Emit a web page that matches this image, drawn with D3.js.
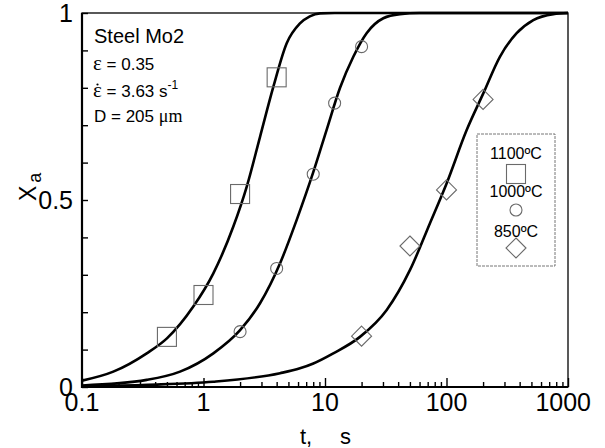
<!DOCTYPE html>
<html>
<head>
<meta charset="utf-8">
<script src="https://cdn.jsdelivr.net/npm/d3@7/dist/d3.min.js"></script>
<style>
  html, body { margin: 0; padding: 0; background: #fff; }
  svg { display: block; }
  text { font-family: "Liberation Sans", Arial, sans-serif; fill: #000; }
  .serif { font-family: "Liberation Serif", "Times New Roman", serif; }
</style>
</head>
<body>
<svg id="chart" width="605" height="448"></svg>
<script>
// Measured points (recrystallised fraction vs time)
const tempLabels = ["1100ºC", "1000ºC", "850ºC"];

const t1100 = [0.5, 1, 2, 4];
const x1100 = [0.134, 0.246, 0.516, 0.828];

const t1000 = [2, 4, 8, 12, 20];
const x1000 = [0.148, 0.317, 0.569, 0.759, 0.910];

const t850 = [20, 50, 100, 200];
const x850 = [0.136, 0.377, 0.527, 0.769];

// Fitted kinetic curves, sampled along each line
const fit1100T = [0.1, 0.181, 0.341, 0.5, 0.824, 1.205, 1.76, 2.27, 2.92, 3.76, 4.84, 6.22, 7.5, 9.1, 12, 1000];
const fit1100X = [0.017, 0.041, 0.090, 0.130, 0.215, 0.304, 0.429, 0.536, 0.669, 0.803, 0.919, 0.972, 0.991, 0.999, 1, 1];

const fit1000T = [0.1, 0.341, 0.641, 1.205, 2.0, 2.92, 4.27, 5.85, 8.02, 10.3, 13.3, 17.1, 22.0, 30.2, 41.4, 60, 1000];
const fit1000X = [0.004, 0.019, 0.041, 0.090, 0.152, 0.224, 0.331, 0.447, 0.575, 0.687, 0.800, 0.883, 0.946, 0.986, 0.997, 1, 1];

const fit850T = [0.1, 0.35, 1.2, 4.27, 6.22, 8.02, 11.7, 19.4, 32.2, 50.1, 73.1, 100.4, 146.6, 200.8, 275, 378, 518, 757, 1000];
const fit850X = [0.002, 0.006, 0.014, 0.037, 0.050, 0.063, 0.090, 0.134, 0.206, 0.313, 0.438, 0.545, 0.687, 0.785, 0.883, 0.946, 0.981, 0.997, 1.0];

// Axis ticks
const xMajorTicks = [0.1, 1, 10, 100, 1000];
const xTickLabels = ["0.1", "1", "10", "100", "1000"];
const yMinorTicks = [0, 0.1, 0.2, 0.3, 0.4, 0.5, 0.6, 0.7, 0.8, 0.9, 1];
const yLabelTicks = [0, 0.5, 1];
const yTickLabels = ["0", "0.5", "1"];

const svg = d3.select("#chart");
const plotL = 82, plotR = 568, plotT = 13, plotB = 387;

const x = d3.scaleLog().domain([0.1, 1000]).range([plotL, plotR]);
const y = d3.scaleLinear().domain([0, 1]).range([plotB, plotT]);

// minor decade ticks 2..9 in every decade
const xMinorTicks = [];
xMajorTicks.slice(0, -1).forEach(d => {
  for (let k = 2; k <= 9; k++) xMinorTicks.push(d * k);
});

svg.append("clipPath").attr("id", "plotclip")
  .append("rect").attr("x", plotL).attr("y", plotT - 2)
  .attr("width", plotR - plotL).attr("height", plotB - plotT + 2);

// fitted curves
const line = d3.line()
  .x(d => x(d[0])).y(d => y(d[1]))
  .curve(d3.curveMonotoneX);

const curves = [
  d3.zip(fit1100T, fit1100X),
  d3.zip(fit1000T, fit1000X),
  d3.zip(fit850T, fit850X)
];
svg.append("g").attr("clip-path", "url(#plotclip)")
  .selectAll("path").data(curves).join("path")
  .attr("d", line)
  .attr("fill", "none")
  .attr("stroke", "#000")
  .attr("stroke-width", 2.6)
  .attr("stroke-linejoin", "round");

// markers
const markerStroke = "#6a6a6a";
const sq = 19, cr = 6, dm = 10;

function drawSquare(g, cx, cy) {
  g.append("rect").attr("x", cx - sq / 2).attr("y", cy - sq / 2)
    .attr("width", sq).attr("height", sq)
    .attr("fill", "none").attr("stroke", markerStroke).attr("stroke-width", 1.1);
}
function drawCircle(g, cx, cy) {
  g.append("circle").attr("cx", cx).attr("cy", cy).attr("r", cr)
    .attr("fill", "none").attr("stroke", markerStroke).attr("stroke-width", 1.1);
}
function drawDiamond(g, cx, cy) {
  g.append("path")
    .attr("d", `M${cx},${cy - dm}L${cx + dm},${cy}L${cx},${cy + dm}L${cx - dm},${cy}Z`)
    .attr("fill", "none").attr("stroke", markerStroke).attr("stroke-width", 1.1);
}

const mk = svg.append("g");
d3.zip(t1100, x1100).forEach(d => drawSquare(mk, x(d[0]), y(d[1])));
d3.zip(t1000, x1000).forEach(d => drawCircle(mk, x(d[0]), y(d[1])));
d3.zip(t850, x850).forEach(d => drawDiamond(mk, x(d[0]), y(d[1])));

// axes: inward ticks
const axisStyle = g => {
  g.select(".domain").remove();
  g.selectAll(".tick line").attr("stroke", "#000").attr("stroke-width", 1.4);
};

svg.append("g").attr("transform", `translate(0,${plotB})`)
  .call(d3.axisBottom(x).tickValues(xMinorTicks).tickSize(-5).tickFormat(""))
  .call(axisStyle);
svg.append("g").attr("transform", `translate(0,${plotB})`)
  .call(d3.axisBottom(x).tickValues(xMajorTicks).tickSize(-9).tickFormat(""))
  .call(axisStyle);
svg.append("g").attr("transform", `translate(${plotL},0)`)
  .call(d3.axisLeft(y).tickValues(yMinorTicks).tickSize(-6).tickFormat(""))
  .call(axisStyle);

// frame
svg.append("rect").attr("x", plotL).attr("y", plotT)
  .attr("width", plotR - plotL).attr("height", plotB - plotT)
  .attr("fill", "none").attr("stroke", "#000").attr("stroke-width", 1.3);
svg.append("line").attr("x1", plotL).attr("x2", plotL).attr("y1", plotT).attr("y2", plotB + 1)
  .attr("stroke", "#000").attr("stroke-width", 2.2);
svg.append("line").attr("x1", plotL - 1).attr("x2", plotR).attr("y1", plotB).attr("y2", plotB)
  .attr("stroke", "#000").attr("stroke-width", 2.2);

// tick labels
svg.append("g").selectAll("text").data(xMajorTicks).join("text")
  .attr("x", (d, i) => i === xMajorTicks.length - 1 ? 591 : x(d))
  .attr("y", 411)
  .attr("text-anchor", (d, i) => i === xMajorTicks.length - 1 ? "end" : "middle")
  .attr("font-size", 25)
  .text((d, i) => xTickLabels[i]);

svg.append("g").selectAll("text").data(yLabelTicks).join("text")
  .attr("x", 73)
  .attr("y", d => y(d) + 9)
  .attr("text-anchor", "end")
  .attr("font-size", 25)
  .text((d, i) => yTickLabels[i]);

// axis titles
const xt = svg.append("text").attr("x", 300).attr("y", 444).attr("font-size", 22);
xt.append("tspan").text("t,");
xt.append("tspan").attr("x", 340).text("s");

const yt = svg.append("text")
  .attr("transform", "translate(36,201) rotate(-90)")
  .attr("font-size", 23);
yt.append("tspan").text("X");
yt.append("tspan").attr("dx", 3).attr("dy", 5).attr("font-size", 18).text("a");

// annotation block
svg.append("text").attr("x", 94).attr("y", 43).attr("font-size", 20).text("Steel Mo2");

const a1 = svg.append("text").attr("x", 93).attr("y", 70).attr("font-size", 17);
a1.append("tspan").attr("class", "serif").attr("font-size", 21).text("ε");
a1.append("tspan").text(" = 0.35");

const a2 = svg.append("text").attr("x", 93).attr("y", 97).attr("font-size", 17);
a2.append("tspan").attr("class", "serif").attr("font-size", 21).text("ε");
a2.append("tspan").text(" = 3.63 s");
a2.append("tspan").attr("dy", -8).attr("font-size", 12).text("-1");
// rate dot above the epsilon
svg.append("circle").attr("cx", 97.5).attr("cy", 84.5).attr("r", 1.1).attr("fill", "#000");

const a3 = svg.append("text").attr("x", 94).attr("y", 122).attr("font-size", 17);
a3.append("tspan").text("D = 205 ");
a3.append("tspan").attr("class", "serif").attr("font-size", 18).text("μm");

// legend
const lg = svg.append("g");
lg.append("rect").attr("x", 477).attr("y", 134).attr("width", 78).attr("height", 132)
  .attr("fill", "none").attr("stroke", "#666").attr("stroke-width", 0.9)
  .attr("stroke-dasharray", "3,1");
const lx = 516;
const legendRows = [
  { label: tempLabels[0], base: 159, cy: 174, draw: drawSquare },
  { label: tempLabels[1], base: 197, cy: 210, draw: drawCircle },
  { label: tempLabels[2], base: 237, cy: 248, draw: drawDiamond }
];
legendRows.forEach(r => {
  lg.append("text").attr("x", lx).attr("y", r.base)
    .attr("text-anchor", "middle").attr("font-size", 16).text(r.label);
  r.draw(lg, lx, r.cy);
});
</script>
</body>
</html>
